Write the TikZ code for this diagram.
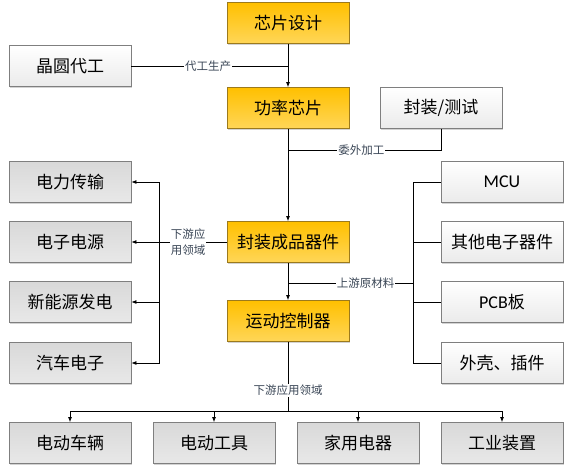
\documentclass[tikz,border=0pt]{standalone}
\usepackage{fontspec}
\setmainfont{Noto Sans CJK SC}
\newfontfamily\latinfont{Carlito}
\usetikzlibrary{shadows,arrows.meta}
\definecolor{goldtop}{HTML}{FFC000}
\definecolor{goldbot}{HTML}{FFD658}
\definecolor{goldline}{HTML}{9C7A1C}
\definecolor{boxline}{HTML}{7F7F7F}
\definecolor{tagcol}{HTML}{3A4656}

\begin{document}
\begin{tikzpicture}[x=1pt, y=-1pt,
  box/.style = {draw, line width=0.8pt, minimum width=122pt, minimum height=41pt, inner sep=0pt,
    font=\fontsize{17}{20}\selectfont,
    drop shadow={shadow xshift=1pt, shadow yshift=-1pt, opacity=0.35}},
  core/.style = {box, draw=goldline, top color=goldtop, bottom color=goldbot},
  plain/.style = {box, draw=boxline, top color=white, bottom color=black!8},
  field/.style = {box, draw=boxline, top color=black!15, bottom color=black!9},
  tag/.style = {fill=white, inner sep=1pt, text=tagcol, font=\fontsize{11.5}{16.5}\selectfont},
  link/.style = {line width=0.8pt},
  feed/.style = {link, -{Latex[length=5pt, width=4pt]}}]
  \useasboundingbox (0,0) rectangle (571,469);

  % chain
  \node[core] (design) at (288,23) {芯片设计};
  \node[plain] (foundry) at (70,66) {晶圆代工};
  \node[core] (chip) at (288,108) {功率芯片};
  \node[plain] (pack) at (441,108) {封装/测试};
  \node[core] (device) at (288,242) {封装成品器件};
  \node[core] (ctrl) at (288,321) {运动控制器};

  % fields
  \node[field] (power) at (70,182) {电力传输};
  \node[field] (supply) at (70,242) {电子电源};
  \node[field] (renew) at (70,302) {新能源发电};
  \node[field] (auto) at (70,363) {汽车电子};

  % materials
  \node[plain] (mcu) at (502,182) {\latinfont\fontsize{18}{20}\selectfont MCU};
  \node[plain] (parts) at (502,242) {其他电子器件};
  \node[plain] (pcb) at (502,302) {{\latinfont\fontsize{18}{20}\selectfont PCB}板};
  \node[plain] (shell) at (502,363) {外壳、插件};

  % uses
  \node[field] (ev) at (70,443) {电动车辆};
  \node[field] (tool) at (214,443) {电动工具};
  \node[field] (home) at (358,443) {家用电器};
  \node[field] (plant) at (502,443) {工业装置};

  \coordinate (j1) at (288,66);
  \coordinate (j2) at (288,150);
  \coordinate (j3) at (288,283);
  \coordinate (lbus) at (159,242);
  \coordinate (rbus) at (413,283);
  \coordinate (bbus) at (288,411);

  \draw[feed] (design) -- (chip);
  \draw[link] (foundry) -- node[tag, pos=0.49] {代工生产} (j1);
  \draw[feed] (chip) -- (device);
  \draw[link] (pack) |- node[tag, pos=0.76] {委外加工} (j2);
  \draw[link] (device) -- node[tag, pos=0.57, align=center] {下游应\\用领域} (lbus);
  \foreach \n in {power,supply,renew,auto}
    \draw[feed] (lbus) |- (\n.east);
  \draw[link] (rbus) -- node[tag, pos=0.38] {上游原材料} (j3);
  \foreach \n in {mcu,parts,pcb,shell}
    \draw[link] (rbus) |- (\n.west);
  \draw[feed] (device) -- (ctrl);
  \draw[link] (ctrl) -- node[tag, pos=0.7] {下游应用领域} (bbus);
  \foreach \n in {ev,tool,home,plant}
    \draw[feed] (bbus) -| (\n.north);
\end{tikzpicture}
\end{document}
